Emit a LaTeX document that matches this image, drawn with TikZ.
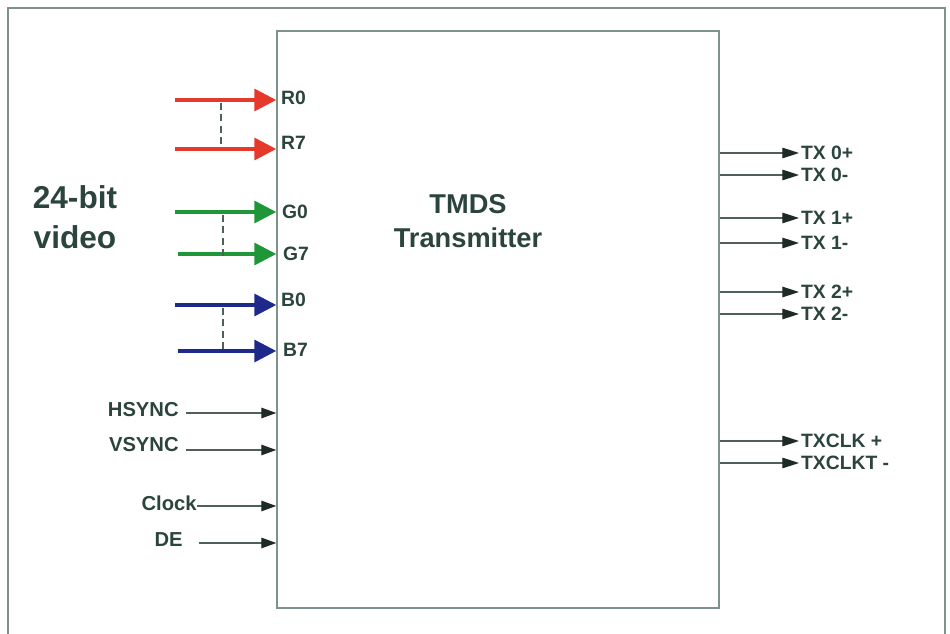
\documentclass[tikz,border=0pt]{standalone}
\usepackage{fontspec}
\setmainfont{Liberation Sans}
\usepackage{xcolor}
\usetikzlibrary{arrows.meta, positioning}

\definecolor{txtc}{HTML}{2B443E}
\definecolor{boxc}{HTML}{7C928A}
\definecolor{linec}{HTML}{4F5F5A}
\definecolor{tipc}{HTML}{1E2A26}
\definecolor{redbus}{HTML}{E5392C}
\definecolor{greenbus}{HTML}{1F9637}
\definecolor{bluebus}{HTML}{1D2A8A}

\begin{document}
\begin{tikzpicture}[x=0.02cm, y=-0.02cm, text=txtc,
  frame/.style={draw=boxc, line width=0.9pt},
  bus/.style={line width=2pt, -{Triangle[length=12.5pt, width=12.5pt]}},
  sig/.style={draw=linec, line width=0.7pt, -{Triangle[length=8.5pt, width=6pt, color=tipc]}},
  outsig/.style={draw=linec, line width=0.7pt, -{Triangle[length=9.5pt, width=6pt, color=tipc]}},
  busdash/.style={draw=linec, dash pattern=on 4pt off 2.5pt, line width=0.6pt},
  pin/.style={anchor=west, inner sep=1pt, font=\bfseries\fontsize{11}{13}\selectfont},
  lbl/.style={inner sep=0pt, font=\bfseries\fontsize{11.5}{13}\selectfont}]
  \useasboundingbox (0,0) rectangle (950,634);
  % outer frame, open at the bottom
  \draw[frame] (8,634) -- (8,8) -- (945,8) -- (945,634);
  % transmitter block
  \node[frame, minimum width=8.84cm, minimum height=11.54cm, inner sep=0pt] (box) at (498,319.5) {};
  \node[align=center, font=\bfseries\fontsize{15.5}{19}\selectfont] (title) at (468,221) {TMDS\\Transmitter};
  \node[align=center, font=\bfseries\fontsize{18}{23}\selectfont] (video) at (75,217) {24-bit\\video};

  % colour buses
  \coordinate (r0in) at (175,100);
  \coordinate (r7in) at (175,149);
  \coordinate (g0in) at (175,212);
  \coordinate (g7in) at (178,254);
  \coordinate (b0in) at (175,305);
  \coordinate (b7in) at (178,351);
  \draw[bus, redbus] (r0in) -- (r0in -| box.west);
  \draw[bus, redbus] (r7in) -- (r7in -| box.west);
  \draw[bus, greenbus] (g0in) -- (g0in -| box.west);
  \draw[bus, greenbus] (g7in) -- (g7in -| box.west);
  \draw[bus, bluebus] (b0in) -- (b0in -| box.west);
  \draw[bus, bluebus] (b7in) -- (b7in -| box.west);
  \draw[busdash] (221,103) -- (221,146);
  \draw[busdash] (223,215) -- (223,258);
  \draw[busdash] (223,308) -- (223,350);
  \node[pin] (r0) at (279,98) {R0};
  \node[pin] (r7) at (279,143) {R7};
  \node[pin] (g0) at (280,212) {G0};
  \node[pin] (g7) at (281,254) {G7};
  \node[pin] (b0) at (279,300) {B0};
  \node[pin] (b7) at (281,350) {B7};

  % sync and control inputs
  \node[lbl, anchor=east] (hsync) at (179,410) {HSYNC};
  \node[lbl, anchor=east] (vsync) at (179,445) {VSYNC};
  \node[lbl, anchor=east] (clock) at (197,503) {Clock};
  \node[lbl, anchor=east] (de) at (183,540) {DE};
  \coordinate (hsin) at (186,413);
  \coordinate (vsin) at (186,450);
  \coordinate (ckin) at (197,506);
  \coordinate (dein) at (199,543);
  \draw[sig] (hsin) -- (hsin -| box.west);
  \draw[sig] (vsin) -- (vsin -| box.west);
  \draw[sig] (ckin) -- (ckin -| box.west);
  \draw[sig] (dein) -- (dein -| box.west);

  % differential outputs
  \foreach \y/\t/\n in {153/TX 0+/tx0p, 175/TX 0-/tx0n, 218/TX 1+/tx1p, 243/TX 1-/tx1n,
      292/TX 2+/tx2p, 314/TX 2-/tx2n, 441/TXCLK +/clkp, 463/TXCLKT -/clkn} {
    \node[pin] (\n) at (799,\y) {\t};
    \draw[outsig] (box.east |- \n.west) -- (\n.west);
  }
\end{tikzpicture}
\end{document}
